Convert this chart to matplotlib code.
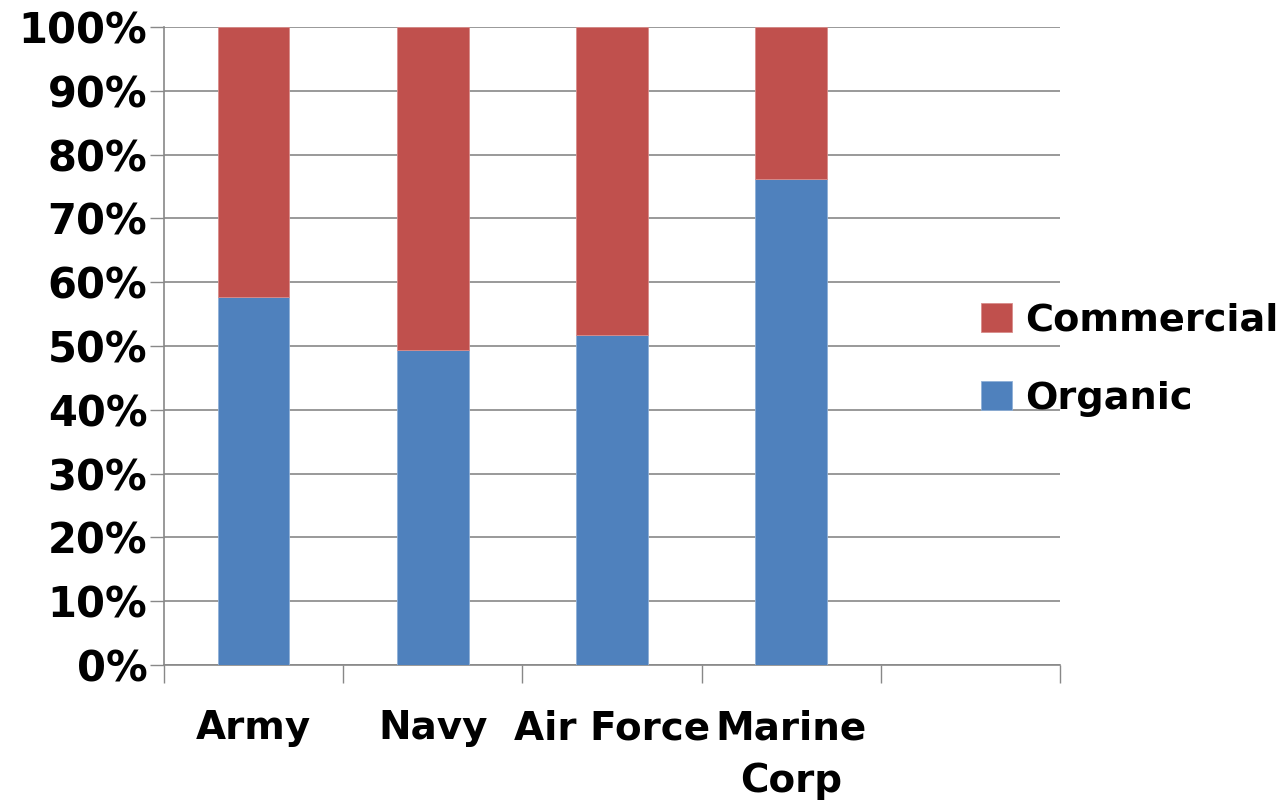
import matplotlib.pyplot as plt
import numpy as np

categories = ["Army", "Navy", "Air Force", "Marine\nCorp", ""]
organic = [57.7, 49.3, 51.7, 76.1, 0]
commercial = [100 - v if c else 0 for v, c in zip(organic, categories)]
yticks = np.arange(0, 101, 10)

blue = "#4F81BD"
red = "#C0504D"
grid = "#888888"

plt.rcParams["font.family"] = "DejaVu Sans"
plt.rcParams["font.weight"] = "bold"

fig = plt.figure(figsize=(12.82, 8.07), dpi=100)
ax = fig.add_axes([164 / 1282, 142 / 807, 896 / 1282, 638 / 807])

x = np.arange(len(categories))
b1 = ax.bar(x, organic, width=0.4, color=blue, edgecolor="#8FB0D8", linewidth=0.6, zorder=3)
b2 = ax.bar(x, commercial, width=0.4, bottom=organic, color=red, edgecolor="#D98C8A", linewidth=0.6, zorder=3)

ax.set_xlim(-0.5, len(categories) - 0.5)
ax.set_ylim(0, 100)

ax.set_yticks(yticks)
ax.set_yticklabels([f"{v}%" for v in yticks], fontsize=30, fontweight="bold")
ax.tick_params(axis="y", length=10, width=1, color=grid, pad=2)
ax.yaxis.grid(True, color=grid, linewidth=1.2, zorder=0)

ax.set_xticks(x)
ax.set_xticklabels(categories, fontsize=28, fontweight="bold", linespacing=1.5)
ax.set_xticks(np.arange(-0.5, len(categories), 1), minor=True)
ax.tick_params(axis="x", which="major", length=0, pad=32)
ax.tick_params(axis="x", which="minor", length=13, width=1, color=grid)

for s in ["top", "right"]:
    ax.spines[s].set_visible(False)
for s in ["left", "bottom"]:
    ax.spines[s].set_color(grid)
    ax.spines[s].set_linewidth(1.2)

fig.legend([b2, b1], ["Commercial", "Organic"], loc="center left",
           bbox_to_anchor=(966 / 1282, 1 - 360 / 807), frameon=False,
           fontsize=27.5, handlelength=0.8, handleheight=0.8,
           handletextpad=0.35, labelspacing=1.1, borderaxespad=0)

fig.savefig("out.png", dpi=100)
